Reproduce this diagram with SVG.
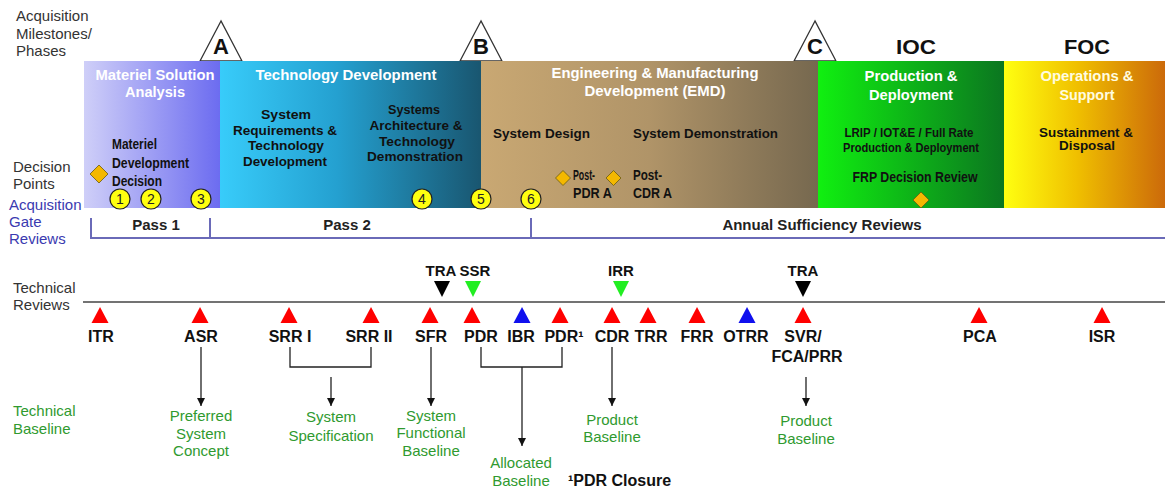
<svg xmlns="http://www.w3.org/2000/svg" xmlns:xlink="http://www.w3.org/1999/xlink" width="1165" height="489" viewBox="0 0 1165 489">
  <style>
    text { font-family: "Liberation Sans", Arial, sans-serif; }
    .side { font-size: 15px; fill: #333; }
    .sideblue { font-size: 15px; fill: #3a3ab0; }
    .sidegreen { font-size: 15px; fill: #2f9a2f; }
    .title { font-size: 14px; font-weight: bold; fill: #fff; text-anchor: middle; }
    .sub { font-size: 13.5px; font-weight: bold; fill: #111; text-anchor: middle; }
    .subl { font-size: 13.5px; font-weight: bold; fill: #111; }
    .ms { font-size: 22px; font-weight: bold; fill: #111; text-anchor: middle; }
    .cap { font-size: 20px; font-weight: bold; fill: #111; text-anchor: middle; }
    .msTri { fill: #fff; stroke: #333; stroke-width: 1.3; }
    .dp { fill: #ffff10; stroke: #222; stroke-width: 1.2; }
    .dpn { font-size: 14px; fill: #222; text-anchor: middle; }
    .dia { fill: #f4b800; stroke: #6a5a10; stroke-width: 0.8; }
    .pass { font-size: 15px; font-weight: bold; fill: #222; text-anchor: middle; }
    .gate { stroke: #6a6ab8; stroke-width: 2; fill: none; }
    .rev { font-size: 16px; font-weight: bold; fill: #111; text-anchor: middle; }
    .up-red { fill: #ff0000; }
    .up-blue { fill: #1010ee; }
    .dn-black { fill: #000; }
    .dn-green { fill: #22ee22; }
    .base { font-size: 15px; fill: #2f9a2f; text-anchor: middle; }
    .conn { stroke: #222; stroke-width: 1.3; fill: none; }
  </style>
  <defs>
    <linearGradient id="gMSA" x1="0" x2="1" y1="0" y2="0">
      <stop offset="0" stop-color="#cfcff8"/>
      <stop offset="1" stop-color="#6c6cf0"/>
    </linearGradient>
    <linearGradient id="gTD" x1="0" x2="1" y1="0" y2="0">
      <stop offset="0" stop-color="#38ccfa"/>
      <stop offset="0.45" stop-color="#24a0d0"/>
      <stop offset="1" stop-color="#195670"/>
    </linearGradient>
    <linearGradient id="gEMD" x1="0" x2="1" y1="0" y2="0">
      <stop offset="0" stop-color="#c9a873"/>
      <stop offset="0.5" stop-color="#b09468"/>
      <stop offset="1" stop-color="#76684f"/>
    </linearGradient>
    <linearGradient id="gPD" x1="0" x2="1" y1="0" y2="0">
      <stop offset="0" stop-color="#10f010"/>
      <stop offset="1" stop-color="#0b7620"/>
    </linearGradient>
    <linearGradient id="gOS" x1="0" x2="1" y1="0" y2="0">
      <stop offset="0" stop-color="#ffff10"/>
      <stop offset="0.45" stop-color="#f0c000"/>
      <stop offset="1" stop-color="#cc6a0a"/>
    </linearGradient>
    <polygon id="up" points="0,0 -8.5,16 8.5,16"/>
    <polygon id="dn" points="0,16 -8,0 8,0"/>
    <marker id="arr" viewBox="0 0 10 10" refX="10" refY="5" markerWidth="8" markerHeight="8" markerUnits="userSpaceOnUse" orient="auto">
      <path d="M0,0 L10,5 L0,10 Z" fill="#111"/>
    </marker>
  </defs>

  <rect width="1165" height="489" fill="#fff"/>

  <!-- row captions on the left -->
  <g id="captions">
    <text class="side" x="16" y="21">Acquisition</text>
    <text class="side" x="16" y="39">Milestones/</text>
    <text class="side" x="16" y="56">Phases</text>
    <text class="side" x="13" y="172">Decision</text>
    <text class="side" x="13" y="189">Points</text>
    <text class="sideblue" x="9" y="210">Acquisition</text>
    <text class="sideblue" x="9" y="227">Gate</text>
    <text class="sideblue" x="9" y="244">Reviews</text>
    <text class="side" x="13" y="293">Technical</text>
    <text class="side" x="13" y="310">Reviews</text>
    <text class="sidegreen" x="13" y="416">Technical</text>
    <text class="sidegreen" x="13" y="434">Baseline</text>
  </g>

  <!-- milestone markers -->
  <g id="milestone-A">
    <polygon class="msTri" points="221,21 200,61 242,61"/>
    <text class="ms" x="221" y="54">A</text>
  </g>
  <g id="milestone-B">
    <polygon class="msTri" points="481,21 460,61 502,61"/>
    <text class="ms" x="481" y="54">B</text>
  </g>
  <g id="milestone-C">
    <polygon class="msTri" points="815,21 794,61 836,61"/>
    <text class="ms" x="815" y="54">C</text>
  </g>
  <g id="ioc"><text class="cap" x="916" y="54" textLength="40" lengthAdjust="spacingAndGlyphs">IOC</text></g>
  <g id="foc"><text class="cap" x="1087" y="54" textLength="46" lengthAdjust="spacingAndGlyphs">FOC</text></g>

  <!-- phases -->
  <g id="phase-msa">
    <rect x="84" y="61" width="136" height="147" fill="url(#gMSA)"/>
    <text class="title" x="155" y="80" textLength="119" lengthAdjust="spacingAndGlyphs">Materiel Solution</text>
    <text class="title" x="155" y="97" textLength="60" lengthAdjust="spacingAndGlyphs">Analysis</text>
    <text class="subl" x="112" y="149" style="font-size:14.5px" textLength="45" lengthAdjust="spacingAndGlyphs">Materiel</text>
    <text class="subl" x="112" y="168" style="font-size:14.5px" textLength="77" lengthAdjust="spacingAndGlyphs">Development</text>
    <text class="subl" x="112" y="186" style="font-size:14.5px" textLength="50" lengthAdjust="spacingAndGlyphs">Decision</text>
  </g>
  <g id="phase-td">
    <rect x="220" y="61" width="261" height="147" fill="url(#gTD)"/>
    <text class="title" x="346" y="80" textLength="181" lengthAdjust="spacingAndGlyphs">Technology Development</text>
    <text class="sub" x="286" y="119" textLength="50" lengthAdjust="spacingAndGlyphs">System</text>
    <text class="sub" x="285" y="135" textLength="104" lengthAdjust="spacingAndGlyphs">Requirements &amp;</text>
    <text class="sub" x="286" y="150" textLength="76" lengthAdjust="spacingAndGlyphs">Technology</text>
    <text class="sub" x="285" y="166" textLength="84" lengthAdjust="spacingAndGlyphs">Development</text>
    <text class="sub" x="414" y="114" textLength="52" lengthAdjust="spacingAndGlyphs">Systems</text>
    <text class="sub" x="416" y="130" textLength="93" lengthAdjust="spacingAndGlyphs">Architecture &amp;</text>
    <text class="sub" x="417" y="146" textLength="76" lengthAdjust="spacingAndGlyphs">Technology</text>
    <text class="sub" x="415" y="161" textLength="96" lengthAdjust="spacingAndGlyphs">Demonstration</text>
  </g>
  <g id="phase-emd">
    <rect x="481" y="61" width="337" height="147" fill="url(#gEMD)"/>
    <text class="title" x="655" y="78" textLength="207" lengthAdjust="spacingAndGlyphs">Engineering &amp; Manufacturing</text>
    <text class="title" x="655" y="96" textLength="141" lengthAdjust="spacingAndGlyphs">Development (EMD)</text>
    <text class="subl" x="493" y="138" textLength="97" lengthAdjust="spacingAndGlyphs">System Design</text>
    <text class="subl" x="633" y="138" textLength="145" lengthAdjust="spacingAndGlyphs">System Demonstration</text>
    <text class="subl" x="573" y="180" style="font-size:14.5px" textLength="22" lengthAdjust="spacingAndGlyphs">Post-</text>
    <text class="subl" x="573" y="198" style="font-size:14.5px" textLength="39" lengthAdjust="spacingAndGlyphs">PDR A</text>
    <text class="subl" x="633" y="180" style="font-size:14.5px" textLength="29" lengthAdjust="spacingAndGlyphs">Post-</text>
    <text class="subl" x="633" y="198" style="font-size:14.5px" textLength="39" lengthAdjust="spacingAndGlyphs">CDR A</text>
  </g>
  <g id="phase-pd">
    <rect x="818" y="61" width="186" height="147" fill="url(#gPD)"/>
    <text class="title" x="911" y="81" textLength="93" lengthAdjust="spacingAndGlyphs">Production &amp;</text>
    <text class="title" x="911" y="100" textLength="84" lengthAdjust="spacingAndGlyphs">Deployment</text>
    <text class="sub" x="909" y="137" style="font-size:12.5px" textLength="129" lengthAdjust="spacingAndGlyphs">LRIP / IOT&amp;E / Full Rate</text>
    <text class="sub" x="911" y="152" style="font-size:12.5px" textLength="136" lengthAdjust="spacingAndGlyphs">Production &amp; Deployment</text>
    <text class="sub" x="915" y="182" style="font-size:15px" textLength="125" lengthAdjust="spacingAndGlyphs">FRP Decision Review</text>
  </g>
  <g id="phase-os">
    <rect x="1004" y="61" width="161" height="147" fill="url(#gOS)"/>
    <text class="title" x="1087" y="81" textLength="93" lengthAdjust="spacingAndGlyphs" style="fill:#fffce0">Operations &amp;</text>
    <text class="title" x="1087" y="100" textLength="55" lengthAdjust="spacingAndGlyphs" style="fill:#fffce0">Support</text>
    <text class="sub" x="1086" y="137" textLength="94" lengthAdjust="spacingAndGlyphs">Sustainment &amp;</text>
    <text class="sub" x="1087" y="150" textLength="56" lengthAdjust="spacingAndGlyphs">Disposal</text>
  </g>

  <!-- decision points -->
  <g id="decision-points">
    <polygon class="dia" points="99,165 108,174 99,183 90,174"/>
    <polygon class="dia" points="563,170.5 570.5,178 563,185.5 555.5,178"/>
    <polygon class="dia" points="613.5,170.5 621,178 613.5,185.5 606,178"/>
    <polygon class="dia" points="921,192 929,200 921,208 913,200"/>
    <g id="dp1"><circle class="dp" cx="120" cy="199" r="10"/><text class="dpn" x="120" y="204">1</text></g>
    <g id="dp2"><circle class="dp" cx="151" cy="199" r="10"/><text class="dpn" x="151" y="204">2</text></g>
    <g id="dp3"><circle class="dp" cx="201" cy="199" r="10"/><text class="dpn" x="201" y="204">3</text></g>
    <g id="dp4"><circle class="dp" cx="422" cy="199" r="10"/><text class="dpn" x="422" y="204">4</text></g>
    <g id="dp5"><circle class="dp" cx="481" cy="199" r="10"/><text class="dpn" x="481" y="204">5</text></g>
    <g id="dp6"><circle class="dp" cx="531" cy="199" r="10"/><text class="dpn" x="531" y="204">6</text></g>
  </g>

  <!-- acquisition gate reviews -->
  <g id="gate-reviews">
    <path class="gate" d="M91,218 V238 H1165 M210,218 V238 M531,218 V238"/>
    <text class="pass" x="156" y="230">Pass 1</text>
    <text class="pass" x="347" y="230">Pass 2</text>
    <text class="pass" x="822" y="230">Annual Sufficiency Reviews</text>
  </g>

  <!-- technical review timeline -->
  <g id="timeline">
    <line x1="83" y1="302" x2="1165" y2="302" stroke="#444" stroke-width="1.6"/>
  </g>

  <g id="reviews-above">
    <g id="tra1"><use xlink:href="#dn" class="dn-black" x="442" y="281"/><text class="rev" x="441" y="276" style="font-size:15px">TRA</text></g>
    <g id="ssr"><use xlink:href="#dn" class="dn-green" x="473" y="281"/><text class="rev" x="475" y="276" style="font-size:15px">SSR</text></g>
    <g id="irr"><use xlink:href="#dn" class="dn-green" x="621" y="281"/><text class="rev" x="621" y="276" style="font-size:15px">IRR</text></g>
    <g id="tra2"><use xlink:href="#dn" class="dn-black" x="803" y="281"/><text class="rev" x="803" y="276" style="font-size:15px">TRA</text></g>
  </g>

  <g id="reviews-below">
    <g id="itr"><use xlink:href="#up" class="up-red" x="100" y="307"/><text class="rev" x="101" y="342">ITR</text></g>
    <g id="asr"><use xlink:href="#up" class="up-red" x="200" y="307"/><text class="rev" x="201" y="342">ASR</text></g>
    <g id="srr1"><use xlink:href="#up" class="up-red" x="289" y="307"/><text class="rev" x="290" y="342">SRR I</text></g>
    <g id="srr2"><use xlink:href="#up" class="up-red" x="371" y="307"/><text class="rev" x="369" y="342">SRR II</text></g>
    <g id="sfr"><use xlink:href="#up" class="up-red" x="430" y="307"/><text class="rev" x="431" y="342">SFR</text></g>
    <g id="pdr"><use xlink:href="#up" class="up-red" x="472" y="307"/><text class="rev" x="481" y="342">PDR</text></g>
    <g id="ibr"><use xlink:href="#up" class="up-blue" x="522" y="307"/><text class="rev" x="521" y="342">IBR</text></g>
    <g id="pdr1"><use xlink:href="#up" class="up-red" x="560" y="307"/><text class="rev" x="564" y="342">PDR¹</text></g>
    <g id="cdr"><use xlink:href="#up" class="up-red" x="612" y="307"/><text class="rev" x="612" y="342">CDR</text></g>
    <g id="trr"><use xlink:href="#up" class="up-red" x="648" y="307"/><text class="rev" x="651" y="342">TRR</text></g>
    <g id="frr"><use xlink:href="#up" class="up-red" x="697" y="307"/><text class="rev" x="697" y="342">FRR</text></g>
    <g id="otrr"><use xlink:href="#up" class="up-blue" x="747" y="307"/><text class="rev" x="746" y="342">OTRR</text></g>
    <g id="svr"><use xlink:href="#up" class="up-red" x="803" y="307"/><text class="rev" x="803" y="342">SVR/</text><text class="rev" x="807" y="362">FCA/PRR</text></g>
    <g id="pca"><use xlink:href="#up" class="up-red" x="979" y="307"/><text class="rev" x="980" y="342">PCA</text></g>
    <g id="isr"><use xlink:href="#up" class="up-red" x="1102" y="307"/><text class="rev" x="1102" y="342">ISR</text></g>
  </g>

  <!-- connectors from reviews to technical baselines -->
  <g id="connectors">
    <line class="conn" x1="201" y1="347" x2="201" y2="406" marker-end="url(#arr)"/>
    <path class="conn" d="M290,347 V367 H371 V347"/>
    <line class="conn" x1="331" y1="377" x2="331" y2="406" marker-end="url(#arr)"/>
    <line class="conn" x1="431" y1="347" x2="431" y2="406" marker-end="url(#arr)"/>
    <path class="conn" d="M481,347 V367 H562 V347"/>
    <line class="conn" x1="522" y1="367" x2="522" y2="446" marker-end="url(#arr)"/>
    <line class="conn" x1="612" y1="347" x2="612" y2="406" marker-end="url(#arr)"/>
    <line class="conn" x1="806" y1="377" x2="806" y2="406" marker-end="url(#arr)"/>
  </g>

  <!-- technical baselines -->
  <g id="bl-preferred">
    <text class="base" x="201" y="421">Preferred</text>
    <text class="base" x="201" y="439">System</text>
    <text class="base" x="201" y="456">Concept</text>
  </g>
  <g id="bl-system-spec">
    <text class="base" x="331" y="422">System</text>
    <text class="base" x="331" y="441">Specification</text>
  </g>
  <g id="bl-functional">
    <text class="base" x="431" y="421">System</text>
    <text class="base" x="431" y="438">Functional</text>
    <text class="base" x="431" y="456">Baseline</text>
  </g>
  <g id="bl-allocated">
    <text class="base" x="521" y="468">Allocated</text>
    <text class="base" x="521" y="486">Baseline</text>
  </g>
  <g id="bl-product-cdr">
    <text class="base" x="612" y="425">Product</text>
    <text class="base" x="612" y="442">Baseline</text>
  </g>
  <g id="bl-product-svr">
    <text class="base" x="806" y="426">Product</text>
    <text class="base" x="806" y="444">Baseline</text>
  </g>
  <g id="footnote">
    <text class="rev" x="568" y="486" style="text-anchor:start">¹PDR Closure</text>
  </g>
</svg>
